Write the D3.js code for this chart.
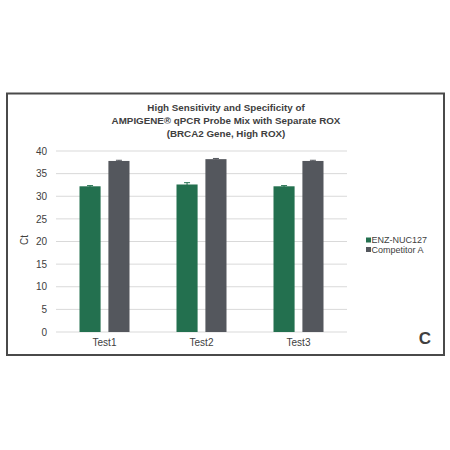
<!DOCTYPE html>
<html>
<head>
<meta charset="utf-8">
<script src="https://cdn.jsdelivr.net/npm/d3@7"></script>
<style>
  body { margin: 0; background: #fff; }
  text { font-family: "Liberation Sans", Arial, sans-serif; fill: #404040; }
</style>
</head>
<body>
<div id="chart"></div>
<script>
const tests = ["Test1", "Test2", "Test3"]
const seriesNames = ["ENZ-NUC127", "Competitor A"]
const enzValues = [32.2, 32.6, 32.2]
const enzErrors = [0.15, 0.4, 0.15]
const compValues = [37.8, 38.2, 37.8]
const compErrors = [0.15, 0.15, 0.15]
const yTicks = [0, 5, 10, 15, 20, 25, 30, 35, 40]
const titleLines = ["High Sensitivity and Specificity of", "AMPIGENE\u00AE qPCR Probe Mix with Separate ROX", "(BRCA2 Gene, High ROX)"]
const colors = ["#23704f", "#54575d"]

const margin = {top: 151, right: 103, bottom: 118, left: 56}
const width = 450 - margin.left - margin.right
const height = 450 - margin.top - margin.bottom

const root = d3.select("#chart").append("svg")
    .attr("width", 450)
    .attr("height", 450)

// outer frame
root.append("rect")
    .attr("x", 7).attr("y", 93.5)
    .attr("width", 437).attr("height", 261.5)
    .attr("fill", "none")
    .attr("stroke", "#4a4a4a")
    .attr("stroke-width", 2)

root.append("text")
    .attr("text-anchor", "middle")
    .attr("font-weight", "bold")
    .attr("font-size", 9.8)
    .attr("fill", "#404040")
    .selectAll("tspan")
    .data(titleLines)
    .enter().append("tspan")
    .attr("x", 226)
    .attr("y", (d, i) => 110.5 + i * 13)
    .text(d => d)

const svg = root.append("g")
    .attr("transform", "translate(" + margin.left + "," + margin.top + ")")

const data = tests.map((t, i) => ({
    test: t,
    vals: [
        {s: 0, v: enzValues[i], e: enzErrors[i]},
        {s: 1, v: compValues[i], e: compErrors[i]}
    ]
}))

const x = d3.scaleBand()
    .range([0, width])
    .domain(tests)

const xs = d3.scaleBand()
    .domain([0, 1])
    .range([x.bandwidth() / 2 - 25, x.bandwidth() / 2 + 25])
    .paddingInner(0.27)

const y = d3.scaleLinear()
    .range([height, 0])
    .domain([0, 40])

svg.selectAll(".grid")
    .data(yTicks)
    .enter().append("line")
    .attr("x1", 0).attr("x2", width)
    .attr("y1", d => y(d)).attr("y2", d => y(d))
    .attr("stroke", "#d9d9d9")
    .attr("stroke-width", 1)

const yAxis = d3.axisLeft(y).tickValues(yTicks).tickSize(0).tickPadding(9)
svg.append("g")
    .call(yAxis)
    .call(g => g.select(".domain").remove())
    .call(g => g.selectAll("text").attr("font-size", 10).attr("fill", "#404040")
        .attr("font-family", "Liberation Sans, Arial, sans-serif"))

const xAxis = d3.axisBottom(x).tickSize(0).tickPadding(7)
svg.append("g")
    .attr("transform", "translate(0," + height + ")")
    .call(xAxis)
    .call(g => g.select(".domain").remove())
    .call(g => g.selectAll("text").attr("font-size", 10).attr("fill", "#404040")
        .attr("font-family", "Liberation Sans, Arial, sans-serif"))

const groups = svg.selectAll(".group")
    .data(data)
    .enter().append("g")
    .attr("transform", d => "translate(" + x(d.test) + ",0)")

groups.selectAll(".bar")
    .data(d => d.vals)
    .enter().append("rect")
    .attr("x", d => xs(d.s))
    .attr("width", xs.bandwidth())
    .attr("y", d => y(d.v))
    .attr("height", d => y(0) - y(d.v))
    .attr("fill", d => colors[d.s])

// error bars
groups.selectAll(".err")
    .data(d => d.vals)
    .enter().append("g")
    .attr("stroke", d => colors[d.s])
    .attr("stroke-width", 1)
    .each(function(d) {
        const g = d3.select(this)
        const cx = xs(d.s) + xs.bandwidth() / 2
        g.append("line").attr("x1", cx).attr("x2", cx).attr("y1", y(d.v + d.e)).attr("y2", y(d.v - d.e))
        g.append("line").attr("x1", cx - 3).attr("x2", cx + 3).attr("y1", y(d.v + d.e)).attr("y2", y(d.v + d.e))
    })

root.append("text")
    .attr("transform", "translate(28,240) rotate(-90)")
    .attr("text-anchor", "middle")
    .attr("font-size", 10)
    .text("Ct")

const legend = root.append("g")
    .attr("transform", "translate(366,240)")
legend.selectAll("rect")
    .data(seriesNames)
    .enter().append("rect")
    .attr("x", 0).attr("y", (d, i) => i * 9.5 - 2.5)
    .attr("width", 5).attr("height", 5)
    .attr("fill", (d, i) => colors[i])
legend.selectAll("text")
    .data(seriesNames)
    .enter().append("text")
    .attr("x", 5.5)
    .attr("y", (d, i) => i * 9.5 + 3.3)
    .attr("font-size", 9)
    .text(d => d)

root.append("text")
    .attr("x", 425).attr("y", 344)
    .attr("text-anchor", "middle")
    .attr("font-family", "Open Sans, sans-serif")
    .attr("font-weight", 600)
    .attr("font-size", 17)
    .attr("fill", "#111")
    .text("C")
</script>
</body>
</html>
